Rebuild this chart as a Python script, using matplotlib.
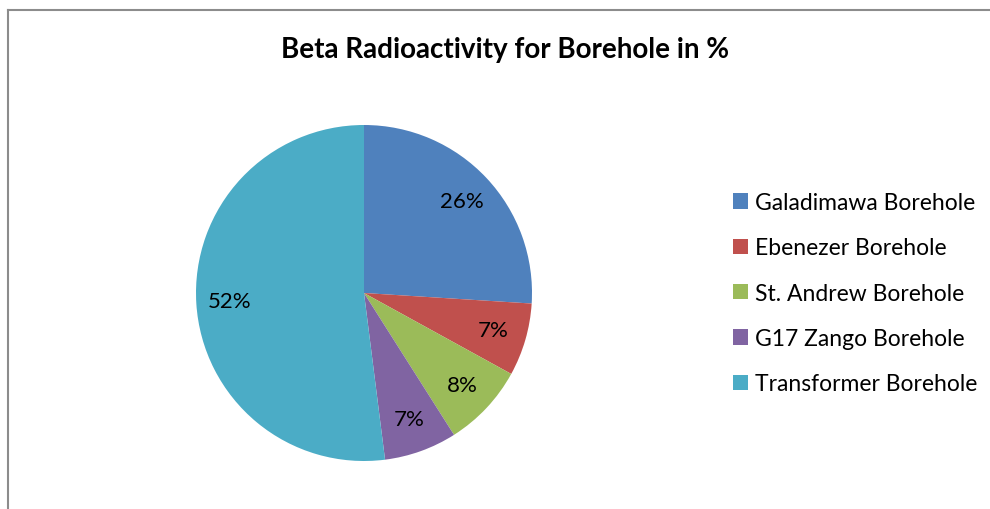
import matplotlib
matplotlib.use('Agg')
import matplotlib.pyplot as plt
from matplotlib.lines import Line2D
from matplotlib.patches import Patch

# ── Data ────────────────────────────────────────────────────
LABELS = ["Galadimawa Borehole", "Ebenezer Borehole", "St. Andrew Borehole",
          "G17 Zango Borehole", "Transformer Borehole"]
VALUES = [26, 7, 8, 7, 52]
COLORS = ["#4F81BD", "#C0504D", "#9BBB59", "#8064A2", "#4BACC6"]
TITLE = "Beta Radioactivity for Borehole in %"

plt.rcParams['font.family'] = ['Lato', 'DejaVu Sans']

W, H = 990, 510
fig = plt.figure(figsize=(W / 100, H / 100), dpi=100)
fig.patch.set_facecolor('white')

# chart-area frame (left and top edges visible)
fig.add_artist(Line2D([8 / W, 8 / W], [0, 1 - 11 / H], transform=fig.transFigure,
                      color='#8c8c8c', lw=1.5))
fig.add_artist(Line2D([8 / W, 1], [1 - 11 / H, 1 - 11 / H], transform=fig.transFigure,
                      color='#8c8c8c', lw=1.5))

# pie: centre (364, 294), radius 168 px
cx, cy, r = 364, 294, 168
ax = fig.add_axes([(cx - r) / W, (H - cy - r) / H, 2 * r / W, 2 * r / H])
wedges, texts, autotexts = ax.pie(
    VALUES, colors=COLORS, startangle=90, counterclock=False,
    autopct='%.0f%%', pctdistance=0.8,
    wedgeprops=dict(edgecolor='none'),
    textprops=dict(fontsize=16, color='black'))
ax.set_xlim(-1, 1)
ax.set_ylim(-1, 1)
ax.set_aspect('auto')
ax.axis('off')

fig.text(505 / W, 1 - 50 / H, TITLE, ha='center', va='center',
         fontsize=20, fontweight='bold')

handles = [Patch(facecolor=c, edgecolor='none') for c in COLORS]
fig.legend(handles, LABELS, loc='upper left',
           bbox_to_anchor=(724 / W, 1 - 184 / H), frameon=False,
           fontsize=16.5, handlelength=0.65, handleheight=0.65,
           handletextpad=0.3, labelspacing=1.06, borderaxespad=0)

fig.savefig('out.png', dpi=100)
